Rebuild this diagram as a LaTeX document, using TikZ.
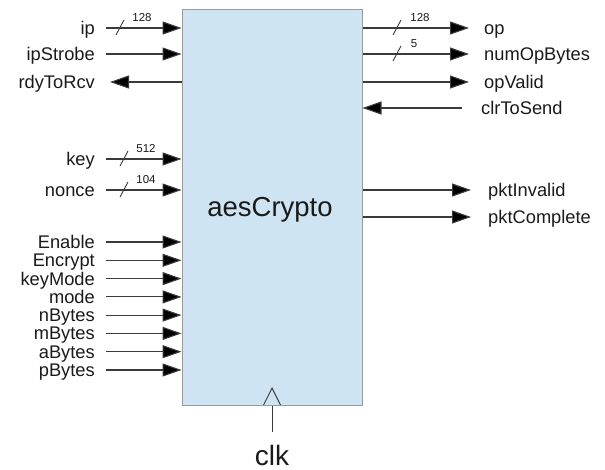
\documentclass[tikz,border=0pt]{standalone}
\usepackage{fontspec}
\setmainfont{Liberation Sans}
\usetikzlibrary{arrows.meta}
\definecolor{boxfill}{HTML}{CFE4F3}
\definecolor{boxline}{HTML}{9A9A9A}
\definecolor{txt}{HTML}{1A1A1A}
\definecolor{wire}{HTML}{3A3A3A}
\tikzset{
  lblL/.style={anchor=base east, inner sep=0pt, text=txt, font=\fontsize{18.3}{18}\selectfont},
  lblR/.style={anchor=base west, inner sep=0pt, text=txt, font=\fontsize{18.3}{18}\selectfont},
  sig/.style={draw=wire, line width=1.1pt, -{Triangle[length=19pt,width=13pt,fill=black]}},
  busmark/.style={draw=wire, line width=0.9pt},
  buslbl/.style={anchor=base, inner sep=0pt, text=txt, font=\fontsize{11.5}{12}\selectfont},
}
\begin{document}
\begin{tikzpicture}[x=1pt,y=-1pt]
\useasboundingbox (0,0) rectangle (605,470);
% block
\node[draw=boxline, fill=boxfill, line width=1pt, minimum width=180pt, minimum height=395pt, inner sep=0pt] (box) at (272,207.5) {};
\node[anchor=base, inner sep=0pt, text=txt, font=\fontsize{27.5}{28}\selectfont] (title) at (270,217) {aesCrypto};
% clock
\coordinate (clkS) at (272,432);
\draw[draw=wire, line width=1pt] (clkS) -- (clkS |- box.south);
\draw[draw=wire, line width=0.9pt] (263.5,405) -- (272,388) -- (280.5,405);
\node[anchor=base, inner sep=0pt, text=txt, font=\fontsize{28}{28}\selectfont] (clk) at (272,465.5) {clk};
% left inputs
\foreach \nm/\lab/\yy in {ip/ip/28, ipStrobe/ipStrobe/54, key/key/159, nonce/nonce/190,
  Enable/Enable/242, Encrypt/Encrypt/260.3, keyMode/keyMode/278.6, mode/mode\ /296.9,
  nBytes/nBytes/315.1, mBytes/mBytes/333.4, aBytes/aBytes/351.7, pBytes/pBytes/370}{
  \coordinate (\nm S) at (106,\yy);
  \node[lblL] (\nm) at (95,\yy+6.5) {\lab};
  \draw[sig] (\nm S) -- (\nm S -| box.west);
}
% left output
\coordinate (rdyS) at (110,82);
\node[lblL] (rdy) at (95,88.5) {rdyToRcv};
\draw[sig] (rdyS -| box.west) -- (rdyS);
% right outputs
\foreach \nm/\lab/\yy/\xe in {op/op/28/469, numOp/numOpBytes/54/469, opValid/opValid/82/469,
  pktInv/pktInvalid/190/471, pktComp/pktComplete/217/471}{
  \coordinate (\nm E) at (\xe,\yy);
  \draw[sig] (\nm E -| box.east) -- (\nm E);
}
\node[lblR] (op) at (484,34.5) {op};
\node[lblR] (numOp) at (484,60.5) {numOpBytes};
\node[lblR] (opValid) at (484,88.5) {opValid};
\node[lblR] (pktInv) at (488,196.5) {pktInvalid};
\node[lblR] (pktComp) at (488,223.5) {pktComplete};
% right input
\coordinate (clrS) at (462,108);
\node[lblR] (clr) at (481,114.5) {clrToSend};
\draw[sig] (clrS) -- (clrS -| box.east);
% bus marks
\draw[busmark] (116,35) -- (124,20);
\node[buslbl] (w1) at (142,22) {128};
\draw[busmark] (120,166) -- (128,151);
\node[buslbl] (w2) at (146,153) {512};
\draw[busmark] (120,197) -- (128,182);
\node[buslbl] (w3) at (146,184) {104};
\draw[busmark] (393,35) -- (401,20);
\node[buslbl] (w4) at (420,22) {128};
\draw[busmark] (393,61) -- (401,46);
\node[buslbl] (w5) at (414,48) {5};
\end{tikzpicture}
\end{document}
